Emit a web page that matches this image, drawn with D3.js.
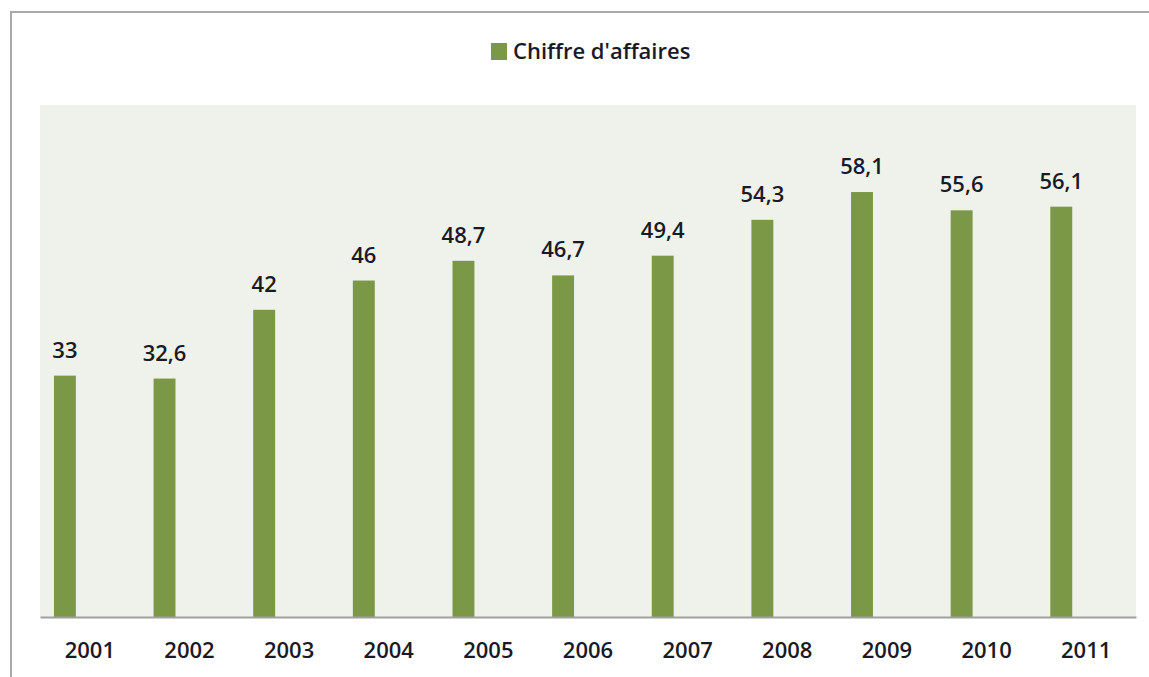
<!DOCTYPE html>
<html>
<head>
<meta charset="utf-8">
<script src="https://cdn.jsdelivr.net/npm/d3@7"></script>
<style>
  html, body { margin: 0; padding: 0; background: #ffffff; }
  svg { display: block; }
  text { font-family: "Open Sans", Lato, sans-serif; font-weight: 600; fill: #1a1a26; }
</style>
</head>
<body>
<svg id="chart" width="1149" height="677"></svg>
<script>
// Chiffre d'affaires, 2001–2011
const years = ["2001", "2002", "2003", "2004", "2005", "2006", "2007", "2008", "2009", "2010", "2011"];
const revenue = [33, 32.6, 42, 46, 48.7, 46.7, 49.4, 54.3, 58.1, 55.6, 56.1];
const seriesName = "Chiffre d'affaires";
const yDomain = [0, 70];

const W = 1149, H = 677;
const plot = { left: 40, right: 1136, top: 105, bottom: 617 };
const barColor = "#7b9846";
const fontSize = 22;

const svg = d3.select("#chart");

// French number format: decimal comma
const fr = d3.formatLocale({ decimal: ",", thousands: " ", grouping: [3], currency: ["", " €"] });
const fmt = v => fr.format(",")(v);

// outer frame (only top and left edges fall inside the view)
svg.append("rect")
  .attr("x", 11).attr("y", 12)
  .attr("width", W + 20).attr("height", H + 20)
  .attr("fill", "#ffffff")
  .attr("stroke", "#a9a9a9").attr("stroke-width", 2);

// plot area background
svg.append("rect")
  .attr("x", plot.left).attr("y", plot.top)
  .attr("width", plot.right - plot.left).attr("height", plot.bottom - plot.top)
  .attr("fill", "#eff2ea");

const x = d3.scaleBand().domain(years).range([plot.left, plot.right]).padding(0);
const y = d3.scaleLinear().domain(yDomain).range([plot.bottom, plot.top]);

// the bar sits in the left part of each category slot
const barW = x.bandwidth() * 0.22;
const barOff = x.bandwidth() * 0.14;

const data = years.map((yr, i) => ({ year: yr, value: revenue[i] }));

svg.append("g").selectAll("rect")
  .data(data)
  .join("rect")
  .attr("x", d => x(d.year) + barOff)
  .attr("y", d => y(d.value))
  .attr("width", barW)
  .attr("height", d => y(0) - y(d.value))
  .attr("fill", barColor);

// value labels
svg.append("g").selectAll("text")
  .data(data)
  .join("text")
  .attr("x", d => x(d.year) + barOff + barW / 2)
  .attr("y", d => y(d.value) - 18)
  .attr("text-anchor", "middle")
  .attr("font-size", fontSize)
  .text(d => fmt(d.value));

// category axis
const xAxis = svg.append("g")
  .attr("transform", `translate(0,${plot.bottom})`)
  .call(d3.axisBottom(x).tickSize(0).tickPadding(25));
xAxis.select(".domain").attr("stroke", "#a0a0a0").attr("stroke-width", 2);
xAxis.selectAll("text")
  .attr("font-size", fontSize)
  .attr("fill", "#1a1a26")
  .style("font-family", "'Open Sans', Lato, sans-serif")
  .style("font-weight", 600);

// legend
const legend = svg.append("g").attr("transform", "translate(491,43)");
legend.append("rect").attr("width", 16).attr("height", 17).attr("fill", barColor);
legend.append("text")
  .attr("x", 22).attr("y", 16)
  .attr("font-size", fontSize)
  .text(seriesName);
</script>
</body>
</html>
